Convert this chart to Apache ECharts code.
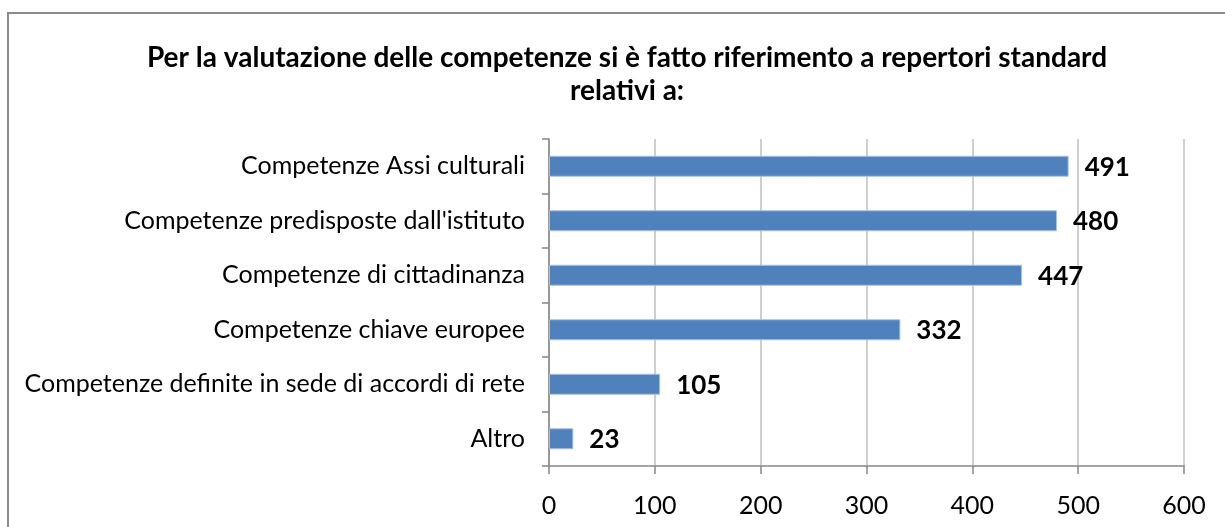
<!DOCTYPE html>
<html>
<head>
<meta charset="utf-8">
<script src="https://cdn.jsdelivr.net/npm/echarts@6/dist/echarts.min.js"></script>
<style>
  html, body { margin: 0; padding: 0; background: #fff; }
  #chart { width: 1225px; height: 527px; }
</style>
</head>
<body>
<div id="chart"></div>
<script>
// Repertori standard usati per la valutazione delle competenze
const categories = [
  'Altro',
  'Competenze definite in sede di accordi di rete',
  'Competenze chiave europee',
  'Competenze di cittadinanza',
  "Competenze predisposte dall'istituto",
  'Competenze Assi culturali'
];
const values = [23, 105, 332, 447, 480, 491];
const xTicks = { min: 0, max: 600, interval: 100 };

const FONT = 'Lato, "Open Sans", "Noto Sans", sans-serif';

const chart = echarts.init(document.getElementById('chart'), null, { renderer: 'canvas' });
chart.setOption({
  backgroundColor: '#ffffff',
  animation: false,
  graphic: [{
    type: 'rect',
    shape: { x: 8, y: 13, width: 1240, height: 540 },
    style: { fill: 'none', stroke: '#8c8c8c', lineWidth: 2 },
    silent: true
  }],
  title: {
    text: 'Per la valutazione delle competenze si è fatto riferimento a repertori standard\nrelativi a:',
    left: 622,
    textAlign: 'center',
    top: 36,
    textStyle: {
      fontFamily: FONT,
      fontWeight: 'bold',
      fontSize: 28,
      color: '#000',
      lineHeight: 33
    }
  },
  grid: { left: 549, right: 41, top: 139, bottom: 61, containLabel: false },
  xAxis: {
    type: 'value',
    min: xTicks.min,
    max: xTicks.max,
    interval: xTicks.interval,
    axisLine: { show: true, lineStyle: { color: '#868686', width: 1.5 } },
    axisTick: { show: true, length: 8, lineStyle: { color: '#868686', width: 1.5 } },
    splitLine: { show: true, lineStyle: { color: '#bfbfbf', width: 1.5 } },
    axisLabel: { fontFamily: FONT, fontSize: 25, color: '#000', margin: 27 }
  },
  yAxis: {
    type: 'category',
    data: categories,
    axisLine: { show: true, lineStyle: { color: '#868686', width: 1.5 } },
    axisTick: { show: true, length: 7, lineStyle: { color: '#868686', width: 1.5 } },
    axisLabel: { fontFamily: FONT, fontSize: 25, color: '#000', margin: 24 }
  },
  series: [{
    type: 'bar',
    data: values,
    barWidth: 21,
    itemStyle: { color: '#4f81bd', borderColor: '#a9c1e0', borderWidth: 1 },
    label: {
      show: true,
      position: 'right',
      distance: 16,
      offset: [0, 1],
      fontFamily: FONT,
      fontWeight: 'bold',
      fontSize: 26,
      color: '#000'
    }
  }]
});
</script>
</body>
</html>
